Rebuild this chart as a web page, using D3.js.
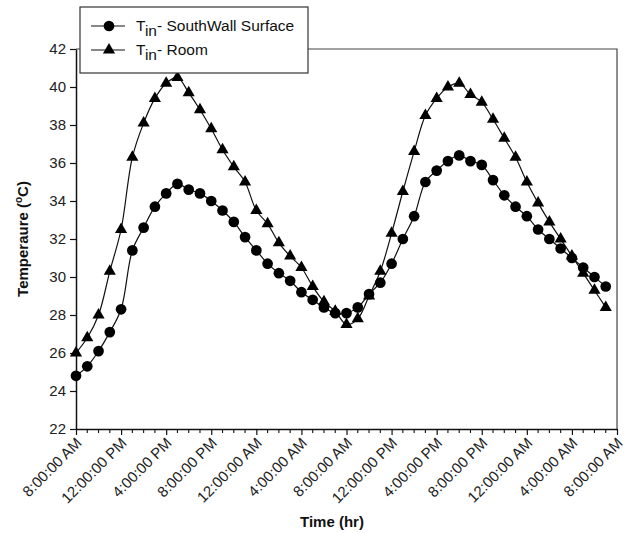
<!DOCTYPE html>
<html>
<head>
<meta charset="utf-8">
<script src="https://cdn.jsdelivr.net/npm/d3@7"></script>
<style>
  html, body { margin: 0; padding: 0; background: #fff; }
  svg { display: block; font-family: "Liberation Sans", Arial, sans-serif; }
</style>
</head>
<body>
<svg id="chart" width="629" height="533"></svg>
<script>
// ---- data ----
const hours = [0,1,2,3,4,5,6,7,8,9,10,11,12,13,14,15,16,17,18,19,20,21,22,23,
               24,25,26,27,28,29,30,31,32,33,34,35,36,37,38,39,40,41,42,43,44,45,46,47];
const southWall = [24.8,25.3,26.1,27.1,28.3,31.4,32.6,33.7,34.4,34.9,34.6,34.4,34.0,33.5,32.9,32.1,
                   31.4,30.7,30.2,29.8,29.2,28.8,28.4,28.1,28.1,28.4,29.1,29.7,30.7,32.0,33.2,35.0,
                   35.6,36.1,36.4,36.1,35.9,35.1,34.3,33.7,33.2,32.5,32.0,31.5,31.0,30.5,30.0,29.5];
const room = [26.0,26.8,28.0,30.3,32.5,36.3,38.1,39.4,40.2,40.5,39.7,38.8,37.8,36.7,35.8,35.0,
              33.5,32.8,31.8,31.1,30.5,29.5,28.7,28.2,27.5,27.8,29.0,30.3,32.3,34.5,36.6,38.5,
              39.4,40.0,40.2,39.6,39.2,38.3,37.3,36.3,35.0,33.9,32.9,32.0,31.1,30.2,29.3,28.4];
const xTickHours = [0,4,8,12,16,20,24,28,32,36,40,44,48];
const xTickLabels = ["8:00:00 AM","12:00:00 PM","4:00:00 PM","8:00:00 PM","12:00:00 AM","4:00:00 AM",
                     "8:00:00 AM","12:00:00 PM","4:00:00 PM","8:00:00 PM","12:00:00 AM","4:00:00 AM","8:00:00 AM"];
const yTicks = [22,24,26,28,30,32,34,36,38,40,42];
const seriesNames = ["- SouthWall Surface", "- Room"];

// ---- layout ----
const svg = d3.select("#chart");
const pL = 76, pR = 617, pT = 49, pB = 429;
const x = d3.scaleLinear().domain([0, 48]).range([pL, pR]);
const y = d3.scaleLinear().domain([22, 42]).range([pB, pT]);
const ink = "#111";

// frame (top/right)
svg.append("path")
  .attr("d", `M${pL},${pT}H${pR}V${pB}`)
  .attr("fill", "none").attr("stroke", "#444").attr("stroke-width", 1.2);

// x axis
const xAxis = d3.axisBottom(x).tickValues(xTickHours)
  .tickFormat((d, i) => xTickLabels[i]).tickSize(6).tickSizeOuter(0);
const gx = svg.append("g").attr("transform", `translate(0,${pB})`).call(xAxis);
gx.select(".domain").attr("stroke", ink).attr("stroke-width", 1.5);
gx.selectAll(".tick line").attr("stroke", ink).attr("stroke-width", 1.2);
gx.selectAll(".tick text")
  .attr("fill", "#222").attr("font-size", 15)
  .attr("text-anchor", "end")
  .attr("x", 0).attr("y", 0).attr("dy", 0)
  .attr("transform", "translate(6,15) rotate(-45)");
// minor ticks (hourly)
const minor = hours.filter(h => h % 4 !== 0);
svg.append("g").selectAll("line").data(minor).join("line")
  .attr("x1", d => x(d)).attr("x2", d => x(d))
  .attr("y1", pB).attr("y2", pB + 4)
  .attr("stroke", ink).attr("stroke-width", 1.1);

// y axis
const yAxis = d3.axisLeft(y).tickValues(yTicks).tickSize(6).tickSizeOuter(0).tickPadding(4);
const gy = svg.append("g").attr("transform", `translate(${pL},0)`).call(yAxis);
gy.select(".domain").attr("stroke", ink).attr("stroke-width", 1.5);
gy.selectAll(".tick line").attr("stroke", ink).attr("stroke-width", 1.2);
gy.selectAll(".tick text").attr("fill", "#222").attr("font-size", 15);

// axis titles
svg.append("text")
  .attr("x", 332).attr("y", 527)
  .attr("text-anchor", "middle").attr("font-size", 15).attr("font-weight", "bold").attr("fill", "#111")
  .text("Time (hr)");
const yt = svg.append("text")
  .attr("transform", `translate(28,${(pT + pB) / 2}) rotate(-90)`)
  .attr("text-anchor", "middle").attr("font-size", 15).attr("font-weight", "bold").attr("fill", "#111");
yt.append("tspan").text("Temperaure (");
yt.append("tspan").attr("font-size", 10).attr("dy", -6).text("o");
yt.append("tspan").attr("dy", 6).text("C)");

// lines
const line = d3.line().x((d, i) => x(hours[i])).y(d => y(d)).curve(d3.curveCatmullRom.alpha(0.5));
const plot = svg.append("g");
plot.append("path").datum(southWall).attr("d", line)
  .attr("fill", "none").attr("stroke", ink).attr("stroke-width", 1.2);
plot.append("path").datum(room).attr("d", line)
  .attr("fill", "none").attr("stroke", ink).attr("stroke-width", 1.2);

// markers
const circ = d3.symbol().type(d3.symbolCircle).size(90);
const tri = d3.symbol().type(d3.symbolTriangle).size(64);
plot.append("g").selectAll("path").data(southWall).join("path")
  .attr("d", circ).attr("transform", (d, i) => `translate(${x(hours[i])},${y(d)})`)
  .attr("fill", "#000");
plot.append("g").selectAll("path").data(room).join("path")
  .attr("d", tri).attr("transform", (d, i) => `translate(${x(hours[i])},${y(d)})`)
  .attr("fill", "#000");

// legend
const lg = svg.append("g");
lg.append("rect").attr("x", 80).attr("y", 7).attr("width", 228).attr("height", 66)
  .attr("fill", "#fff").attr("stroke", "#333").attr("stroke-width", 1.2);
const rows = [{sym: circ, y: 26}, {sym: tri, y: 50}];
rows.forEach((r, k) => {
  lg.append("line").attr("x1", 91).attr("x2", 125).attr("y1", r.y).attr("y2", r.y)
    .attr("stroke", ink).attr("stroke-width", 1.2);
  lg.append("path").attr("d", r.sym).attr("transform", `translate(109,${r.y})`).attr("fill", "#000");
  const t = lg.append("text").attr("x", 136).attr("y", r.y + 5).attr("font-size", 15.5).attr("fill", "#111");
  t.append("tspan").text("T");
  t.append("tspan").attr("dy", 5).text("in");
  t.append("tspan").attr("dy", -5).text(seriesNames[k]);
});
</script>
</body>
</html>
